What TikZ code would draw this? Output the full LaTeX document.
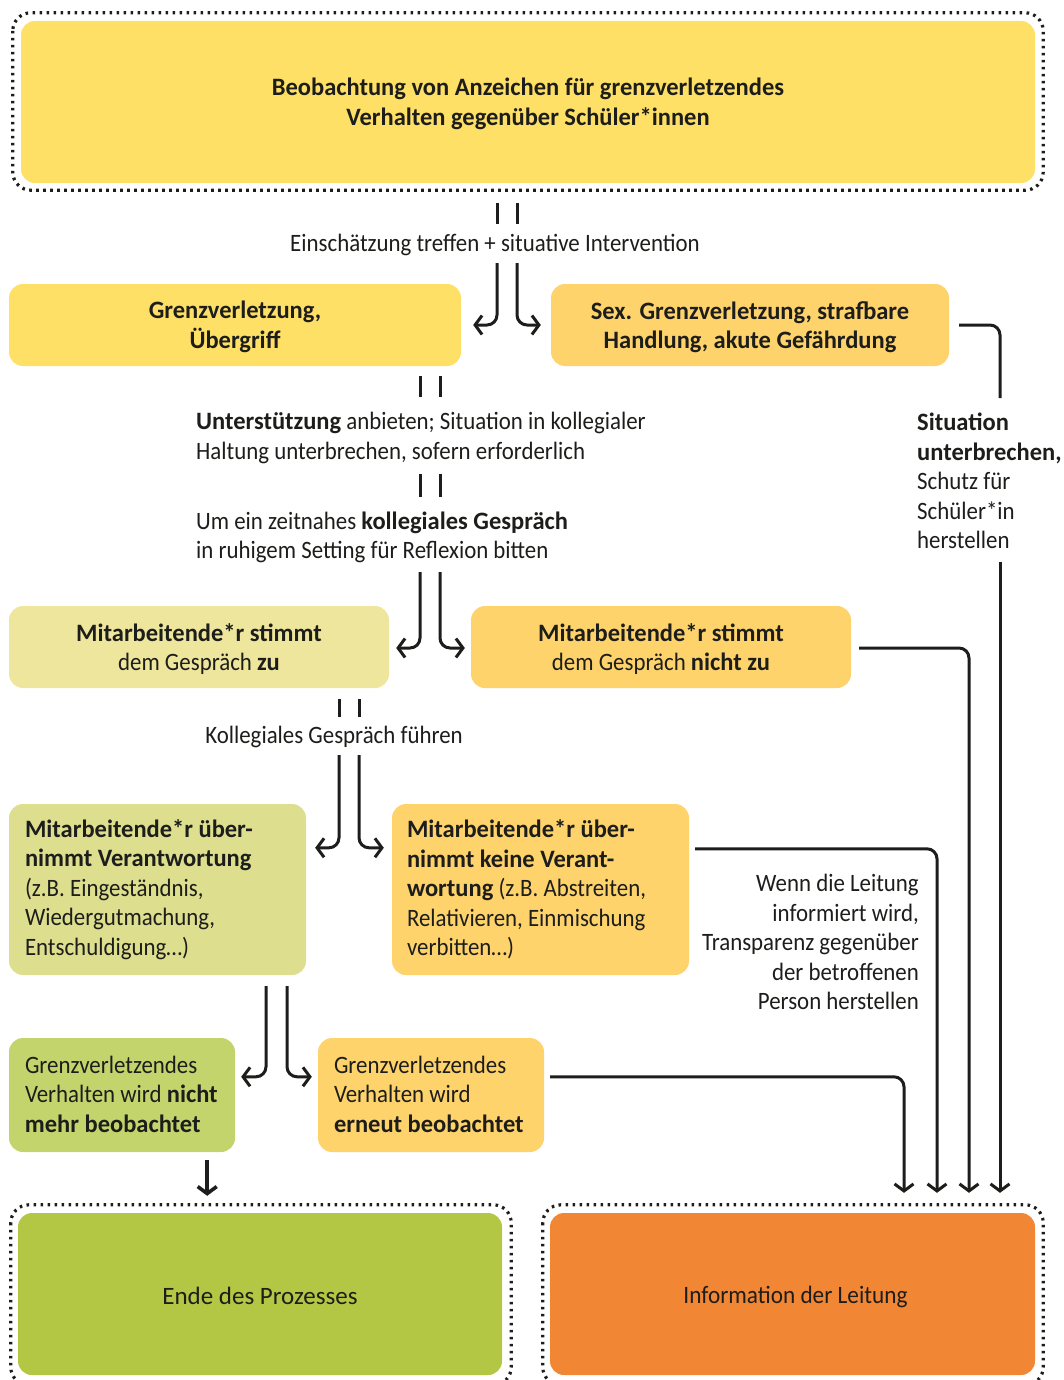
\documentclass[tikz,border=0pt]{standalone}
\usepackage{fontspec}
\setmainfont{Carlito}[UprightFeatures={FakeStretch=0.915}, BoldFeatures={FakeStretch=0.98}]
\newfontfamily\widefont{Carlito}
\newfontfamily\infofont{Carlito}[FakeStretch=0.93]
\usetikzlibrary{arrows.meta,calc}
\definecolor{ink}{HTML}{1D1D1B}
\definecolor{cyellow}{HTML}{FEE066}
\definecolor{corange}{HTML}{FED36C}
\definecolor{cpale}{HTML}{EEE69C}
\definecolor{colivel}{HTML}{DDDF8F}
\definecolor{colive}{HTML}{C4D46C}
\definecolor{cgreen}{HTML}{B3C744}
\definecolor{cdeep}{HTML}{F18734}
\tikzset{
  txtfont/.style={font=\fontsize{25}{29.5}\selectfont},
  boldfont/.style={font=\fontsize{25}{29.5}\selectfont\bfseries},
  box/.style={rounded corners=14pt, inner sep=0pt},
  lbl/.style={inner sep=0pt, text=ink, txtfont},
  ctr/.style={lbl, align=center},
  conn/.style={draw=ink, line width=3pt},
  arr/.style={conn, rounded corners=10pt, -{Straight Barb[length=7pt,width=19pt]}},
  dotb/.style={draw=ink, line width=3.2pt, dash pattern=on 2.6pt off 4.4pt, rounded corners=18pt},
}
\begin{document}
\begin{tikzpicture}[x=1pt,y=-1pt]
\useasboundingbox (0,0) rectangle (1063,1380);
\clip (0,0) rectangle (1063,1380);
% columns of connectors
\coordinate (cA) at (497,0);
\coordinate (cB) at (517,0);
\coordinate (cE) at (420,0);
\coordinate (cF) at (440,0);
\coordinate (cG) at (339,0);
\coordinate (cH) at (359,0);
\coordinate (cJ) at (266,0);
\coordinate (cK) at (287,0);
\coordinate (cW) at (904,0);
\coordinate (cX) at (937,0);
\coordinate (cY) at (969,0);
\coordinate (cZ) at (1000,0);

% boxes
\node[box, fill=cyellow, minimum width=1014pt, minimum height=162pt] (top) at (528,102) {};
\node[ctr, boldfont] (topt) at ($(top.center)+(0,2)$)
  {Beobachtung von Anzeichen für grenzverletzendes\\Verhalten gegenüber Schüler*innen};
\draw[dotb] ($(top.north west)+(-8,-8)$) rectangle ($(top.south east)+(8,7)$);

\node[box, fill=cyellow, minimum width=452pt, minimum height=82pt] (g1) at (235,325) {};
\node[ctr, boldfont] (g1t) at ($(g1.center)+(0,2)$) {Grenzverletzung,\\Übergriff};
\node[box, fill=corange, minimum width=398pt, minimum height=82pt] (s1) at (750,325) {};
\node[ctr, boldfont] (s1t) at ($(s1.center)+(0,2)$) {Sex. Grenzverletzung, strafbare\\Handlung, akute Gefährdung};

\node[box, fill=cpale, minimum width=380pt, minimum height=82pt] (m1) at (199,647) {};
\node[ctr] (m1t) at ($(m1.center)+(0,2)$) {\textbf{Mitarbeitende*r stimmt}\\dem Gespräch \textbf{zu}};
\node[box, fill=corange, minimum width=380pt, minimum height=82pt] (m2) at (661,647) {};
\node[ctr] (m2t) at ($(m2.center)+(0,2)$) {\textbf{Mitarbeitende*r stimmt}\\dem Gespräch \textbf{nicht zu}};

\node[box, fill=colivel, minimum width=297pt, minimum height=171pt] (v1) at (157.5,889.5) {};
\node[lbl, anchor=west, align=left] (v1t) at ($(v1.west)+(16,0)$)
  {\textbf{Mitarbeitende*r über-}\\\textbf{nimmt Verantwortung}\\(z.B. Eingeständnis,\\Wiedergutmachung,\\Entschuldigung…)};
\node[box, fill=corange, minimum width=297pt, minimum height=171pt] (v2) at (540.5,889.5) {};
\node[lbl, anchor=west, align=left] (v2t) at ($(v2.west)+(15,0)$)
  {\textbf{Mitarbeitende*r über-}\\\textbf{nimmt keine Verant-}\\\textbf{wortung} (z.B. Abstreiten,\\Relativieren, Einmischung\\verbitten…)};

\node[box, fill=colive, minimum width=226pt, minimum height=114pt] (b1) at (122,1095) {};
\node[lbl, anchor=west, align=left] (b1t) at ($(b1.west)+(16,-1)$)
  {Grenzverletzendes\\Verhalten wird \textbf{nicht}\\\textbf{mehr beobachtet}};
\node[box, fill=corange, minimum width=226pt, minimum height=114pt] (b2) at (431,1095) {};
\node[lbl, anchor=west, align=left] (b2t) at ($(b2.west)+(16,-1)$)
  {Grenzverletzendes\\Verhalten wird\\\textbf{erneut beobachtet}};

\node[box, fill=cgreen, minimum width=484pt, minimum height=162pt] (ende) at (260,1294) {};
\node[lbl, font=\fontsize{25}{29.5}\selectfont\widefont] (endet) at ($(ende.center)+(0,2)$) {Ende des Prozesses};
\draw[dotb] ($(ende.north west)+(-7,-8)$) rectangle ($(ende.south east)+(9,10)$);
\node[box, fill=cdeep, minimum width=485pt, minimum height=162pt] (info) at (792.5,1294) {};
\node[lbl, font=\fontsize{25}{29.5}\selectfont\infofont] (infot) at ($(info.center)+(3,3)$) {Information der Leitung};
\draw[dotb] ($(info.north west)+(-7,-8)$) rectangle ($(info.south east)+(8,10)$);

% labels
\node[lbl] (ein) at (495,245) {Einschätzung treffen + situative Intervention};
\node[lbl, anchor=west, align=left] (una) at (196,438)
  {\textbf{Unterstützung} anbieten; Situation in kollegialer\\Haltung unterbrechen, sofern erforderlich};
\node[lbl, anchor=west, align=left] (um) at (196,537.5)
  {Um ein zeitnahes \textbf{kollegiales Gespräch}\\in ruhigem Setting für Reflexion bitten};
\node[lbl, anchor=west, align=left] (sit) at (917,481)
  {\textbf{Situation}\\\textbf{unterbrechen,}\\Schutz für\\Schüler*in\\herstellen};
\node[lbl] (kol) at (334,737) {Kollegiales Gespräch führen};
\node[lbl, anchor=east, align=right] (wenn) at (919,942)
  {Wenn die Leitung\\informiert wird,\\Transparenz gegenüber\\der betroffenen\\Person herstellen};

% connectors: top -> label -> split
\draw[conn] ($(top.south -| cA)+(0,20)$) -- ($(ein.center -| cA)+(0,-21)$);
\draw[conn] ($(top.south -| cB)+(0,20)$) -- ($(ein.center -| cB)+(0,-21)$);
\draw[arr] ($(ein.center -| cA)+(0,18)$) |- ($(g1.east)+(12,0)$);
\draw[arr] ($(ein.center -| cB)+(0,18)$) |- ($(s1.west)+(-10,0)$);

% s1 -> info
\draw[conn, rounded corners=10pt] ($(s1.east)+(10,0)$) -| ($(cZ |- s1.south)+(0,32)$);
\draw[arr] ($(cZ |- sit.west)+(0,81)$) -- ($(cZ |- info.north)+(0,-20)$);

% g1 -> labels -> split
\draw[conn] ($(g1.south -| cE)+(0,10)$) -- ($(una.west -| cE)+(0,-41)$);
\draw[conn] ($(g1.south -| cF)+(0,10)$) -- ($(una.west -| cF)+(0,-41)$);
\draw[conn] ($(una.west -| cE)+(0,36)$) -- ($(um.west -| cE)+(0,-40.5)$);
\draw[conn] ($(una.west -| cF)+(0,36)$) -- ($(um.west -| cF)+(0,-40.5)$);
\draw[arr] ($(um.west -| cE)+(0,34.5)$) |- ($(m1.east)+(7,1)$);
\draw[arr] ($(um.west -| cF)+(0,34.5)$) |- ($(m2.west)+(-6,1)$);

% m2 -> info
\draw[arr] ($(m2.east)+(8,1)$) -| ($(cY |- info.north)+(0,-20)$);

% m1 -> label -> split
\draw[conn] ($(m1.south -| cG)+(0,11)$) -- ($(kol.center -| cG)+(0,-20)$);
\draw[conn] ($(m1.south -| cH)+(0,11)$) -- ($(kol.center -| cH)+(0,-20)$);
\draw[arr] ($(kol.center -| cG)+(0,18)$) |- ($(v1.north east)+(9,44)$);
\draw[arr] ($(kol.center -| cH)+(0,18)$) |- ($(v2.north west)+(-8,44)$);

% v2 -> info
\draw[arr] ($(v2.north east)+(6,45)$) -| ($(cX |- info.north)+(0,-20)$);

% v1 -> split
\draw[arr] ($(v1.south -| cJ)+(0,11)$) |- ($(b1.north east)+(6,39)$);
\draw[arr] ($(v1.south -| cK)+(0,11)$) |- ($(b2.north west)+(-6,39)$);

% b2 -> info
\draw[arr] ($(b2.north east)+(6,39)$) -| ($(cW |- info.north)+(0,-20)$);

% b1 -> ende
\draw[conn, line width=3.6pt, -{Straight Barb[length=7pt,width=19pt]}] ($(b1.south east)+(-28,8)$) -- ($(b1.south east |- ende.north)+(-28,-17)$);
\end{tikzpicture}
\end{document}
